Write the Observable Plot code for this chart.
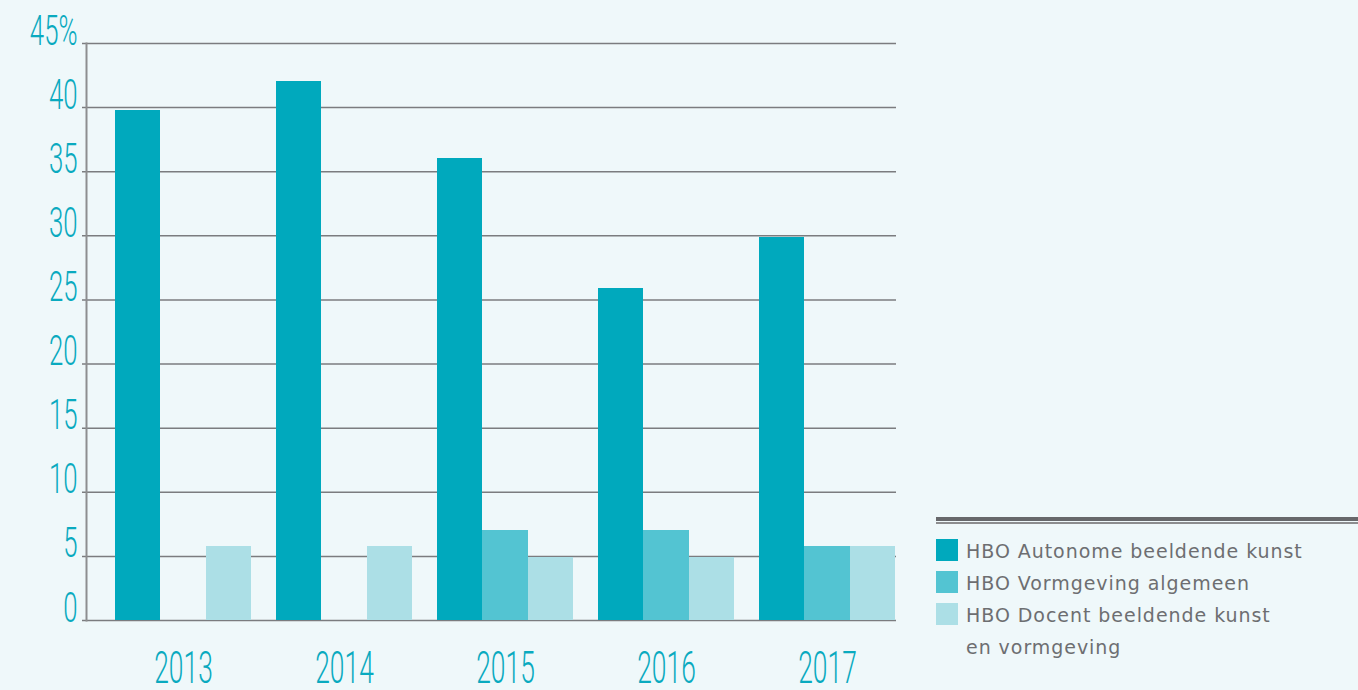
<!DOCTYPE html>
<html><head><meta charset="utf-8">
<script src="https://cdn.jsdelivr.net/npm/d3@7"></script>
<script src="https://cdn.jsdelivr.net/npm/@observablehq/plot@0.6"></script>
<style>
html,body{margin:0;padding:0;background:#eff8fa;}
#wrap{position:relative;width:1358px;height:690px;overflow:hidden;}
#chart{position:absolute;left:0;top:0;}
.rule1{position:absolute;left:936px;top:516.5px;width:422px;height:4px;background:#67686b;}
.rule2{position:absolute;left:936px;top:522px;width:422px;height:2px;background:#8c8d8f;}
#legend{position:absolute;left:936px;top:535px;font-family:"DejaVu Sans",sans-serif;font-size:19px;line-height:32px;color:#6d6e71;letter-spacing:0.95px;}
.item{display:flex;align-items:flex-start;}
.sw{width:22px;height:22px;margin-top:4px;flex:none;}
.lab{margin-left:8px;white-space:nowrap;}
</style></head>
<body><div id="wrap"><div id="chart"></div><div class="rule1"></div><div class="rule2"></div><div id="legend"></div></div>
<script>
const years = ["2013", "2014", "2015", "2016", "2017"];
const seriesNames = ["HBO Autonome beeldende kunst", "HBO Vormgeving algemeen", "HBO Docent beeldende kunst en vormgeving"];
const legendLines = [["HBO Autonome beeldende kunst"], ["HBO Vormgeving algemeen"], ["HBO Docent beeldende kunst", "en vormgeving"]];
const autonome = [39.8, 42, 36, 25.9, 29.9];
const vormgeving = [null, null, 7, 7, 5.8];
const docent = [5.8, 5.8, 4.9, 4.9, 5.8];
const seriesColors = ["#00a9bd", "#53c4d2", "#acdfe6"];
const yTicks = [0, 5, 10, 15, 20, 25, 30, 35, 40, 45];
const yTickLabels = ["0", "5", "10", "15", "20", "25", "30", "35", "40", "45%"];

const seriesValues = [autonome, vormgeving, docent];
const rows = [];
seriesNames.forEach((s, si) => years.forEach((y, yi) => {
  const v = seriesValues[si][yi];
  if (v != null) rows.push({year: y, series: s, value: v});
}));

const W = 1358, H = 690;
const xRange = [113, 898], padIn = 0.154;
const step = (xRange[1] - xRange[0]) / (years.length - padIn);
const bw = step * (1 - padIn);
const third = bw / 3;

const tickRows = yTicks.map((t, i) => ({v: t, label: yTickLabels[i]}));

const barMarks = seriesNames.map((s, si) => Plot.barY(rows.filter(d => d.series === s), {
  x: "year", y: "value", fill: seriesColors[si], shapeRendering: "crispEdges",
  insetLeft: si * third - 0.3, insetRight: (2 - si) * third - 0.3
}));

const chart = Plot.plot({
  width: W, height: H,
  marginLeft: 86, marginRight: W - 896, marginTop: 43, marginBottom: 70,
  style: {background: "transparent", overflow: "visible"},
  x: {type: "band", domain: years, range: xRange, paddingInner: padIn, paddingOuter: 0, axis: null},
  y: {domain: [0, 45], axis: null},
  marks: [
    Plot.ruleY(yTicks, {y: d => d, stroke: "#7b7c7f", strokeWidth: 1.5, insetLeft: -4}),
    Plot.frame({anchor: "left", stroke: "#8d8e90", strokeWidth: 2}),
    ...barMarks,
    Plot.text(tickRows, {y: "v", text: "label", frameAnchor: "left", textAnchor: "end", lineAnchor: "bottom", dx: -9, dy: 1,
      fill: "#0aaabf", fontSize: 43, fontFamily: "Roboto", fontWeight: 300}),
    Plot.text(years, {x: d => d, text: d => d, frameAnchor: "bottom", lineAnchor: "bottom", dy: 62,
      fill: "#0aaabf", fontSize: 44, fontFamily: "Roboto", fontWeight: 300})
  ]
});
document.getElementById("chart").appendChild(chart);

function squeezeBySize(size, s) {
  d3.select(chart).selectAll("text").each(function() {
    const g = this.closest("[font-size]");
    const fs = g ? parseFloat(g.getAttribute("font-size")) : NaN;
    if (fs !== size) return;
    const t = this.getAttribute("transform") || "";
    const x = +this.getAttribute("x") || 0, y = +this.getAttribute("y") || 0;
    this.setAttribute("x", 0); this.setAttribute("y", 0);
    this.setAttribute("transform", `${t} translate(${x},${y}) scale(${s},1)`);
  });
}
squeezeBySize(43, 0.6);
squeezeBySize(44, 0.6);

const leg = d3.select("#legend");
legendLines.forEach((lines, i) => {
  const it = leg.append("div").attr("class", "item");
  it.append("div").attr("class", "sw").style("background", seriesColors[i]);
  const lab = it.append("div").attr("class", "lab");
  lines.forEach((l, j) => { if (j) lab.append("br"); lab.append("span").text(l); });
});
</script></body></html>
